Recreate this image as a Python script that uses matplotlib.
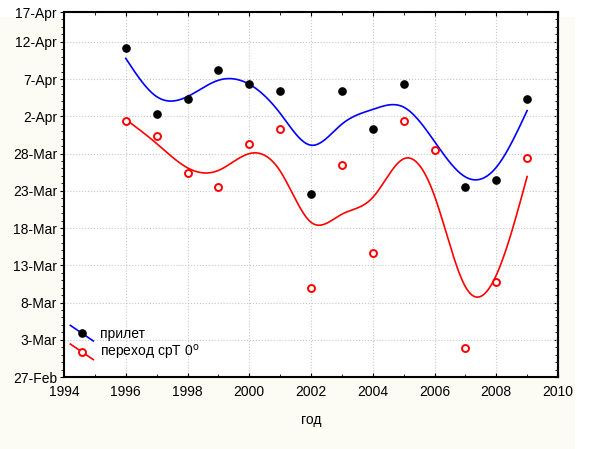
import matplotlib
matplotlib.use("Agg")
import matplotlib.pyplot as plt
import numpy as np
from matplotlib.lines import Line2D
from matplotlib.legend_handler import HandlerLine2D
from matplotlib.patches import Rectangle

# day-of-year values (58 = 27-Feb, 107 = 17-Apr)
years_arrival = [1996, 1997, 1998, 1999, 2000, 2001, 2002, 2003, 2004, 2005, 2007, 2008, 2009]
arrival = [102.2, 93.3, 95.3, 99.2, 97.3, 96.4, 82.6, 96.4, 91.3, 97.3, 83.5, 84.5, 95.3]

years_temp = [1996, 1997, 1998, 1999, 2000, 2001, 2002, 2003, 2004, 2005, 2006, 2007, 2008, 2009]
temp_cross = [92.4, 90.4, 85.4, 83.5, 89.3, 91.3, 69.9, 86.5, 74.7, 92.4, 88.5, 61.9, 70.8, 87.4]

ytick_days = [58, 63, 68, 73, 78, 83, 88, 93, 98, 103, 107]
ytick_labels = ["27-Feb", "3-Mar", "8-Mar", "13-Mar", "18-Mar", "23-Mar",
                "28-Mar", "2-Apr", "7-Apr", "12-Apr", "17-Apr"]
xticks = list(range(1994, 2011, 2))

label_arrival = "прилет"
label_temp = "переход срТ 0$^{\\mathrm{o}}$"


def smooth_fit(x, y, lam, step=0.02):
    # penalised least squares on a fine grid (approximates a cubic smoothing spline)
    x = np.asarray(x, float)
    y = np.asarray(y, float)
    grid = np.arange(x.min(), x.max() + step / 2, step)
    n = len(grid)
    w = np.zeros(n)
    wy = np.zeros(n)
    for xi, yi in zip(x, y):
        k = int(round((xi - grid[0]) / step))
        w[k] += 1
        wy[k] += yi
    d = np.diff(np.eye(n), 2, axis=0)
    a = np.diag(w) + lam / step ** 3 * d.T @ d
    return grid, np.linalg.solve(a, wy)


class DiagHandler(HandlerLine2D):
    # legend line drawn diagonally, marker in the middle
    def create_artists(self, legend, orig_handle, xdescent, ydescent,
                       width, height, fontsize, trans):
        x0, x1 = -xdescent, width - xdescent
        y0, y1 = height - ydescent + 0.3 * height, -ydescent - 0.3 * height
        ln = Line2D([x0, x1], [y0, y1], color=orig_handle.get_color(),
                    lw=orig_handle.get_linewidth())
        mk = Line2D([(x0 + x1) / 2], [(y0 + y1) / 2], ls="none",
                    marker=orig_handle.get_marker(),
                    markersize=orig_handle.get_markersize(),
                    markerfacecolor=orig_handle.get_markerfacecolor(),
                    markeredgecolor=orig_handle.get_markeredgecolor(),
                    markeredgewidth=orig_handle.get_markeredgewidth())
        for a in (ln, mk):
            a.set_transform(trans)
        return [ln, mk]


plt.rcParams['font.family'] = ['Liberation Sans', 'DejaVu Sans']
plt.rcParams['font.size'] = 10

fig = plt.figure(figsize=(5.98, 4.49), dpi=100)
fig.patch.set_facecolor("white")
fig.patches.append(Rectangle((0, 0), 575 / 598, 432 / 449, transform=fig.transFigure,
                             facecolor="#fcfcf4", edgecolor="none", zorder=-10))
ax = fig.add_axes([64 / 598, 1 - 377 / 449, 494 / 598, 365 / 449])
ax.set_facecolor("white")

gx, gy = smooth_fit(years_arrival, arrival, 0.2)
ax.plot(gx, gy, color="blue", lw=1.2, zorder=2)
gx2, gy2 = smooth_fit(years_temp, temp_cross, 0.2)
ax.plot(gx2, gy2, color="red", lw=1.2, zorder=2)

ax.plot(years_arrival, arrival, ls="none", marker="o", markersize=5.2,
        markerfacecolor="black", markeredgecolor="black", zorder=3)
ax.plot(years_temp, temp_cross, ls="none", marker="o", markersize=5,
        markerfacecolor="white", markeredgecolor="red", markeredgewidth=1.4, zorder=3)

ax.set_xlim(1994, 2010)
ax.set_ylim(58, 107)
ax.set_xticks(xticks)
ax.set_xticks(range(1995, 2010, 2), minor=True)
ax.set_yticks(ytick_days)
ax.set_yticklabels(ytick_labels)
ax.set_yticks(range(58, 108), minor=True)
ax.grid(True, which="major", color="#c8c8c8", ls=":", lw=0.8)
ax.set_axisbelow(True)

ax.tick_params(axis="x", which="both", direction="in", top=True, length=3, pad=6)
ax.tick_params(axis="x", which="minor", length=2)
ax.tick_params(axis="y", which="both", direction="out", length=3, pad=2)
ax.tick_params(axis="y", which="minor", length=2)

# right side ticks point inward
sec = ax.secondary_yaxis("right")
sec.set_yticks(ytick_days)
sec.set_yticks(range(58, 108), minor=True)
sec.tick_params(which="both", direction="in", length=3, labelright=False)
sec.tick_params(which="minor", length=2)
sec.spines["right"].set_linewidth(1.5)

for sp in ax.spines.values():
    sp.set_linewidth(1.5)

ax.set_xlabel("год", labelpad=10)

h1 = Line2D([], [], color="blue", lw=1.2, marker="o", markersize=5.2,
            markerfacecolor="black", markeredgecolor="black")
h2 = Line2D([], [], color="red", lw=1.2, marker="o", markersize=5,
            markerfacecolor="white", markeredgecolor="red", markeredgewidth=1.4)
ax.legend([h1, h2], [label_arrival, label_temp], loc="lower left",
          bbox_to_anchor=(-0.004, 0.018), frameon=False, handlelength=1.65,
          handletextpad=0.5, labelspacing=0.15, borderaxespad=0.2,
          handler_map={Line2D: DiagHandler()})

fig.savefig("out.png", dpi=100, facecolor=fig.get_facecolor())
